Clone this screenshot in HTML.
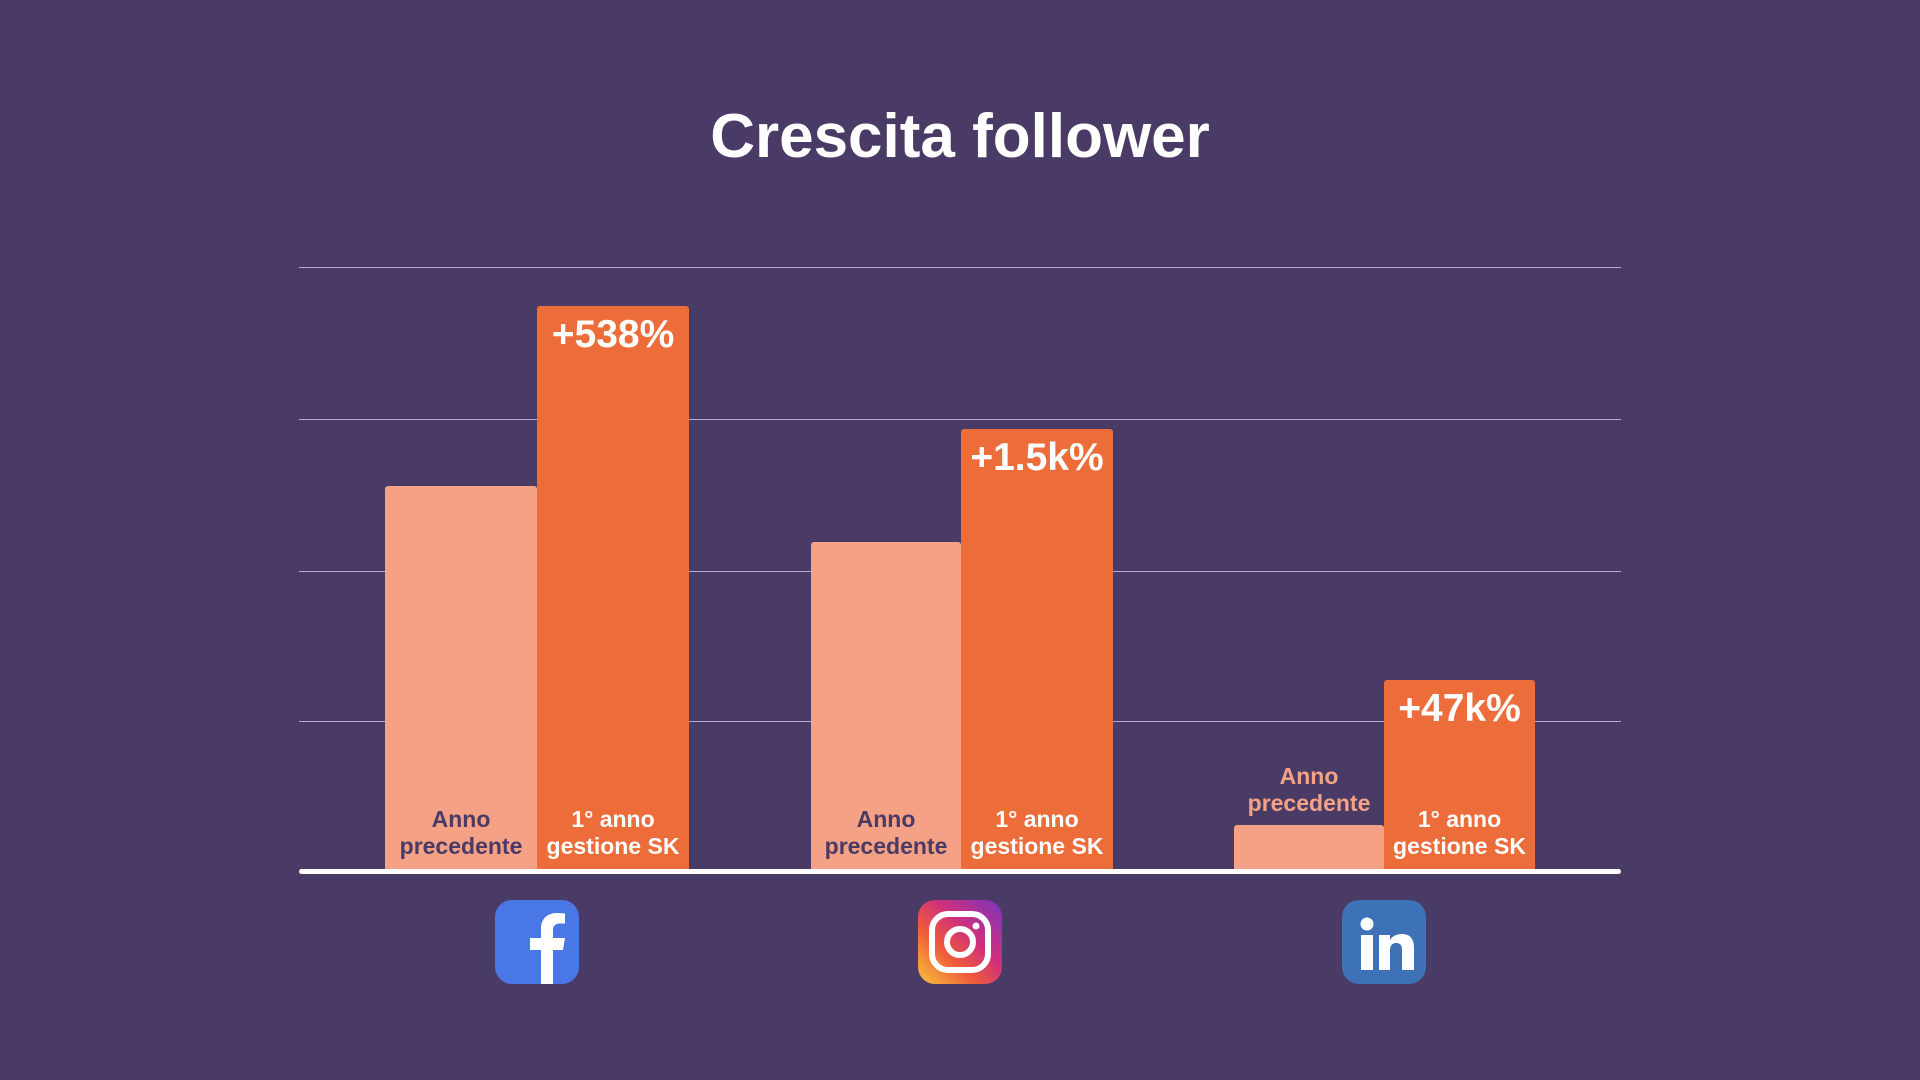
<!DOCTYPE html>
<html><head><meta charset="utf-8"><style>
body{margin:0;width:1920px;height:1080px;background:#4a3b66;position:relative;overflow:hidden;font-family:"Liberation Sans",sans-serif;}
.t{position:absolute;left:0;width:1920px;top:101px;text-align:center;color:#fff;font-size:62px;font-weight:bold;}
.g{position:absolute;left:299px;width:1322px;height:1px;background:#b6aacb;}
.ax{position:absolute;left:299px;width:1322px;top:869px;height:5px;background:#fff;border-radius:3px;}
.b{position:absolute;bottom:210px;border-radius:3px 3px 0 0;}
.l{background:#f5a185;}.d{background:#ec6c3a;}
.lab{position:absolute;width:100%;bottom:10px;text-align:center;font-size:23px;font-weight:bold;line-height:27px;}
.pct{position:absolute;width:100%;top:7px;text-align:center;font-size:39px;font-weight:bold;color:#fff;}
.ic{position:absolute;top:900px;width:84px;height:84px;border-radius:17px;overflow:hidden;}
</style></head><body>
<div class="t">Crescita follower</div>
<div class="g" style="top:267px"></div>
<div class="g" style="top:419px"></div>
<div class="g" style="top:571px"></div>
<div class="g" style="top:721px"></div>

<div class="b l" style="left:385px;width:152px;top:486px"><div class="lab" style="color:#4a3b66">Anno<br>precedente</div></div>
<div class="b d" style="left:537px;width:152px;top:306px"><div class="pct">+538%</div><div class="lab" style="color:#fff">1° anno<br>gestione SK</div></div>

<div class="b l" style="left:811px;width:150px;top:542px"><div class="lab" style="color:#4a3b66">Anno<br>precedente</div></div>
<div class="b d" style="left:961px;width:152px;top:429px"><div class="pct">+1.5k%</div><div class="lab" style="color:#fff">1° anno<br>gestione SK</div></div>

<div class="b l" style="left:1234px;width:150px;top:825px"></div>
<div style="position:absolute;left:1234px;width:150px;top:763px;text-align:center;font-size:23px;font-weight:bold;line-height:27px;color:#f5a185">Anno<br>precedente</div>
<div class="b d" style="left:1384px;width:151px;top:680px"><div class="pct">+47k%</div><div class="lab" style="color:#fff">1° anno<br>gestione SK</div></div>

<div class="ax"></div>

<div class="ic" style="left:495px;background:#4a77e6">
<svg width="84" height="84" viewBox="0 0 84 84"><path d="M46 84V50h-11V38h11v-9c0-11 7-16 16-16 4 0 8 .5 8 .5v10h-5c-5 0-7 3-7 6v8.5h12l-2 12H58v34z" fill="#fff"/></svg></div>
<div class="ic" style="left:918px;background:linear-gradient(45deg,#f9c53a 0%,#ee5a3a 35%,#d1307a 60%,#7a34c0 100%)">
<svg width="84" height="84" viewBox="0 0 84 84"><rect x="14" y="14" width="56" height="56" rx="16" fill="none" stroke="#fff" stroke-width="6"/><circle cx="42" cy="42" r="13" fill="none" stroke="#fff" stroke-width="6"/><circle cx="58" cy="26" r="3.5" fill="#fff"/></svg></div>
<div class="ic" style="left:1342px;background:#3e72b6">
<svg width="84" height="84" viewBox="0 0 84 84"><circle cx="25" cy="24" r="6.5" fill="#fff"/><rect x="19" y="35" width="12" height="35" fill="#fff"/><path d="M37 35h11v5c2-4 7-6 12-6 8 0 12 5 12 14v22H60V50c0-5-2-7-6-7s-6 3-6 7v20H37z" fill="#fff"/></svg></div>
</body></html>
